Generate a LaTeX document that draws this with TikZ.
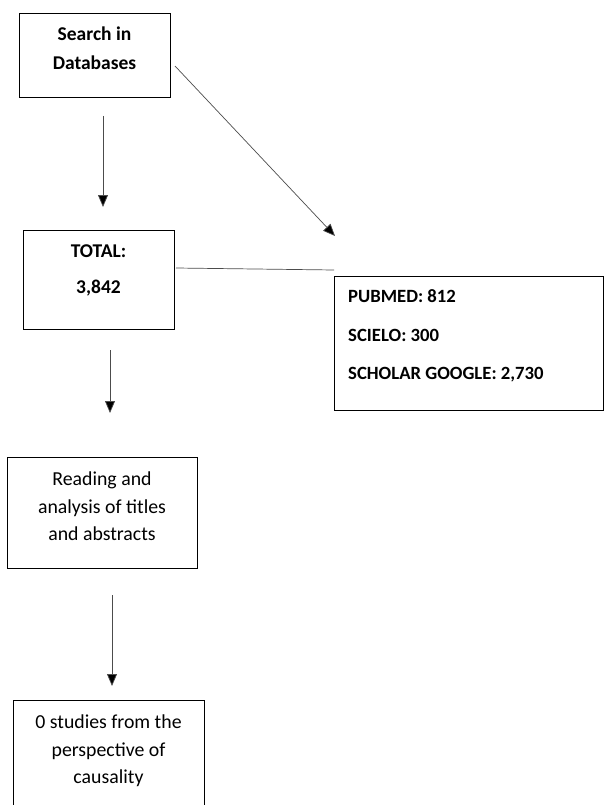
\documentclass[tikz,border=0pt]{standalone}
\usepackage{fontspec}
\setmainfont{Carlito}
\usetikzlibrary{arrows.meta}
\begin{document}
\begin{tikzpicture}[x=1pt,y=-1pt,
  boxst/.style={draw=black,line width=1.3pt,rectangle,inner sep=0pt,anchor=north west},
  txt/.style={align=center,font=\fontsize{19.8}{27.3}\selectfont,inner sep=0pt,anchor=north},
  ltxt/.style={align=left,font=\fontsize{18.7}{27}\selectfont\bfseries,inner sep=0pt,anchor=west},
  arr/.style={draw=black!70,line width=0.7pt,-{Triangle[length=12pt,width=10pt,fill=black]}},
  ln/.style={draw=black!70,line width=0.7pt}]
\useasboundingbox (0,0) rectangle (604,805);
% boxes
\node[boxst,minimum width=151pt,minimum height=84pt] (b1) at (19,13) {};
\node[boxst,minimum width=151pt,minimum height=99pt] (b2) at (23,230) {};
\node[boxst,minimum width=269pt,minimum height=134pt] (b3) at (334,276) {};
\node[boxst,minimum width=190pt,minimum height=111pt] (b4) at (7,457) {};
\node[boxst,minimum width=191pt,minimum height=120pt] (b5) at (13,700) {};
% texts
\node[txt,font=\fontsize{19.5}{28.5}\selectfont\bfseries] (t1) at (94.5,27) {Search in\\Databases};
\node[txt,font=\fontsize{19.5}{36}\selectfont\bfseries] (t2) at (98.5,245) {TOTAL:\\3,842};
\node[ltxt] (t3a) at (348,296) {PUBMED: 812};
\node[ltxt] (t3b) at (348,335) {SCIELO: 300};
\node[ltxt] (t3c) at (348,375) {SCHOLAR GOOGLE: 2,730};
\node[txt] (t4) at (102,472) {Reading and\\analysis of titles\\and abstracts};
\node[txt] (t5) at (108.5,715) {0 studies from the\\perspective of\\causality};
% connector ends
\coordinate (a1s) at (103,116);
\coordinate (a1e) at (103,207);
\coordinate (d1s) at (175,66);
\coordinate (d1e) at (335,236);
\coordinate (l1s) at (176,268);
\coordinate (l1e) at (334,270);
\coordinate (a2s) at (110,350);
\coordinate (a2e) at (110,413);
\coordinate (a3s) at (112,595);
\coordinate (a3e) at (112,686);
\draw[arr] (a1s) -- (a1e);
\draw[arr] (d1s) -- (d1e);
\draw[ln] (l1s) -- (l1e);
\draw[arr] (a2s) -- (a2e);
\draw[arr] (a3s) -- (a3e);
\end{tikzpicture}
\end{document}
